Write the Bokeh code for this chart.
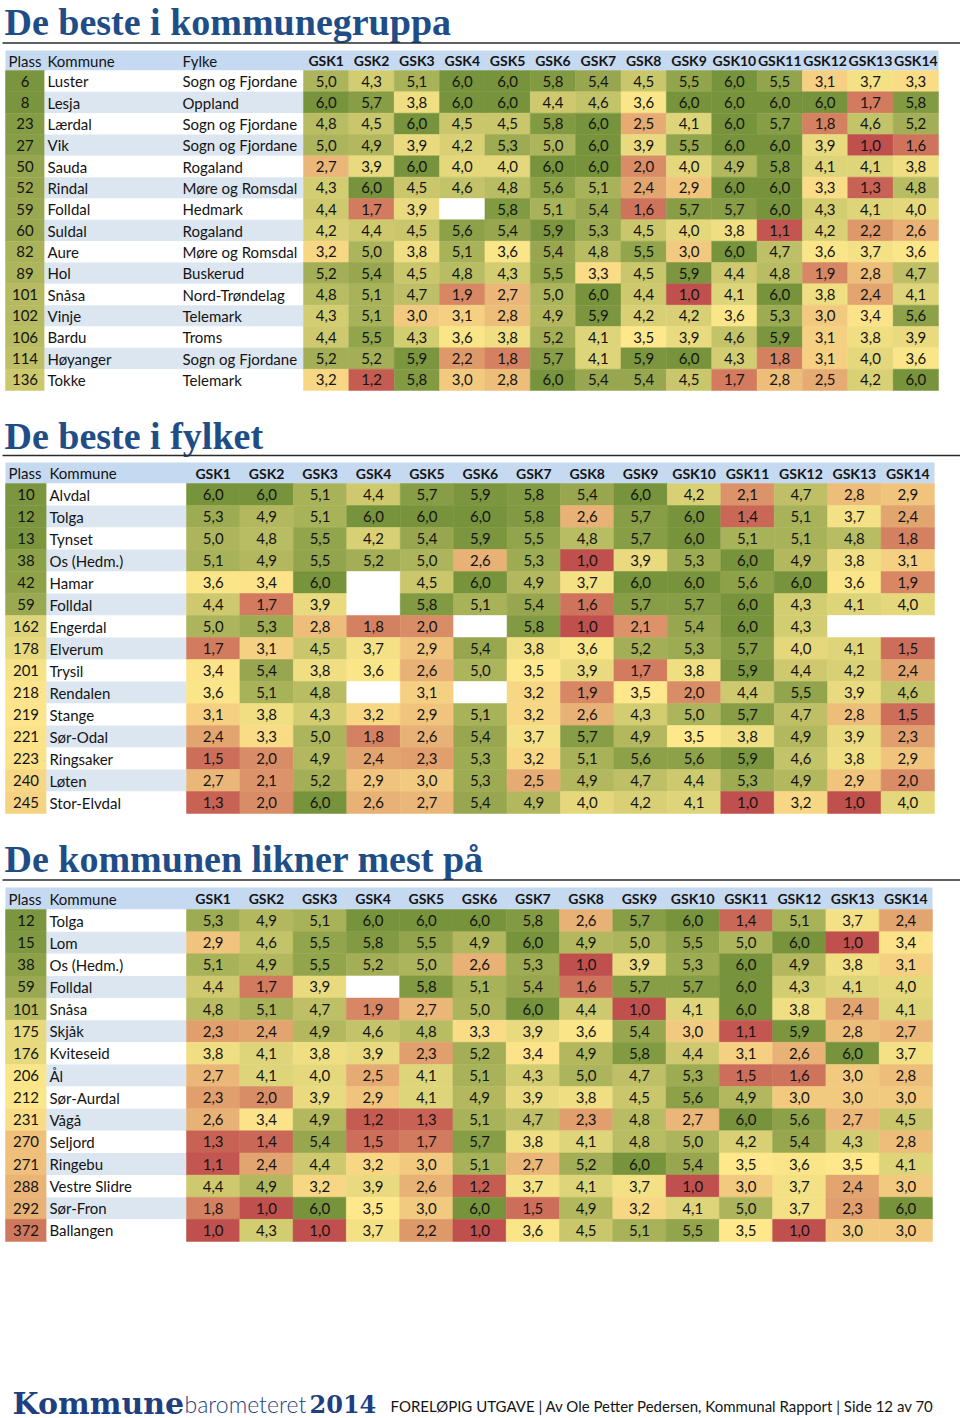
import numpy as np
from bokeh.plotting import figure
from bokeh.models import ColumnDataSource, Range1d
from bokeh.transform import linear_cmap
from bokeh.core.properties import value
from bokeh.embed import file_html
from bokeh.resources import INLINE

N = None
GSK_LABELS = [f"GSK{i}" for i in range(1, 15)]

# ---------------- Table 1 ----------------
t1_title = "De beste i kommunegruppa"
t1_plass = [6, 8, 23, 27, 50, 52, 59, 60, 82, 89, 101, 102, 106, 114, 136]
t1_kommune = ["Luster", "Lesja", "Lærdal", "Vik", "Sauda", "Rindal", "Folldal", "Suldal",
              "Aure", "Hol", "Snåsa", "Vinje", "Bardu", "Høyanger", "Tokke"]
t1_fylke = ["Sogn og Fjordane", "Oppland", "Sogn og Fjordane", "Sogn og Fjordane", "Rogaland",
            "Møre og Romsdal", "Hedmark", "Rogaland", "Møre og Romsdal", "Buskerud",
            "Nord-Trøndelag", "Telemark", "Troms", "Sogn og Fjordane", "Telemark"]
t1_values = [
    [5.0, 4.3, 5.1, 6.0, 6.0, 5.8, 5.4, 4.5, 5.5, 6.0, 5.5, 3.1, 3.7, 3.3],
    [6.0, 5.7, 3.8, 6.0, 6.0, 4.4, 4.6, 3.6, 6.0, 6.0, 6.0, 6.0, 1.7, 5.8],
    [4.8, 4.5, 6.0, 4.5, 4.5, 5.8, 6.0, 2.5, 4.1, 6.0, 5.7, 1.8, 4.6, 5.2],
    [5.0, 4.9, 3.9, 4.2, 5.3, 5.0, 6.0, 3.9, 5.5, 6.0, 6.0, 3.9, 1.0, 1.6],
    [2.7, 3.9, 6.0, 4.0, 4.0, 6.0, 6.0, 2.0, 4.0, 4.9, 5.8, 4.1, 4.1, 3.8],
    [4.3, 6.0, 4.5, 4.6, 4.8, 5.6, 5.1, 2.4, 2.9, 6.0, 6.0, 3.3, 1.3, 4.8],
    [4.4, 1.7, 3.9, N, 5.8, 5.1, 5.4, 1.6, 5.7, 5.7, 6.0, 4.3, 4.1, 4.0],
    [4.2, 4.4, 4.5, 5.6, 5.4, 5.9, 5.3, 4.5, 4.0, 3.8, 1.1, 4.2, 2.2, 2.6],
    [3.2, 5.0, 3.8, 5.1, 3.6, 5.4, 4.8, 5.5, 3.0, 6.0, 4.7, 3.6, 3.7, 3.6],
    [5.2, 5.4, 4.5, 4.8, 4.3, 5.5, 3.3, 4.5, 5.9, 4.4, 4.8, 1.9, 2.8, 4.7],
    [4.8, 5.1, 4.7, 1.9, 2.7, 5.0, 6.0, 4.4, 1.0, 4.1, 6.0, 3.8, 2.4, 4.1],
    [4.3, 5.1, 3.0, 3.1, 2.8, 4.9, 5.9, 4.2, 4.2, 3.6, 5.3, 3.0, 3.4, 5.6],
    [4.4, 5.5, 4.3, 3.6, 3.8, 5.2, 4.1, 3.5, 3.9, 4.6, 5.9, 3.1, 3.8, 3.9],
    [5.2, 5.2, 5.9, 2.2, 1.8, 5.7, 4.1, 5.9, 6.0, 4.3, 1.8, 3.1, 4.0, 3.6],
    [3.2, 1.2, 5.8, 3.0, 2.8, 6.0, 5.4, 5.4, 4.5, 1.7, 2.8, 2.5, 4.2, 6.0],
]

# ---------------- Table 2 ----------------
t2_title = "De beste i fylket"
t2_plass = [10, 12, 13, 38, 42, 59, 162, 178, 201, 218, 219, 221, 223, 240, 245]
t2_kommune = ["Alvdal", "Tolga", "Tynset", "Os (Hedm.)", "Hamar", "Folldal", "Engerdal",
              "Elverum", "Trysil", "Rendalen", "Stange", "Sør-Odal", "Ringsaker", "Løten",
              "Stor-Elvdal"]
t2_values = [
    [6.0, 6.0, 5.1, 4.4, 5.7, 5.9, 5.8, 5.4, 6.0, 4.2, 2.1, 4.7, 2.8, 2.9],
    [5.3, 4.9, 5.1, 6.0, 6.0, 6.0, 5.8, 2.6, 5.7, 6.0, 1.4, 5.1, 3.7, 2.4],
    [5.0, 4.8, 5.5, 4.2, 5.4, 5.9, 5.5, 4.8, 5.7, 6.0, 5.1, 5.1, 4.8, 1.8],
    [5.1, 4.9, 5.5, 5.2, 5.0, 2.6, 5.3, 1.0, 3.9, 5.3, 6.0, 4.9, 3.8, 3.1],
    [3.6, 3.4, 6.0, N, 4.5, 6.0, 4.9, 3.7, 6.0, 6.0, 5.6, 6.0, 3.6, 1.9],
    [4.4, 1.7, 3.9, N, 5.8, 5.1, 5.4, 1.6, 5.7, 5.7, 6.0, 4.3, 4.1, 4.0],
    [5.0, 5.3, 2.8, 1.8, 2.0, N, 5.8, 1.0, 2.1, 5.4, 6.0, 4.3, N, N],
    [1.7, 3.1, 4.5, 3.7, 2.9, 5.4, 3.8, 3.6, 5.2, 5.3, 5.7, 4.0, 4.1, 1.5],
    [3.4, 5.4, 3.8, 3.6, 2.6, 5.0, 3.5, 3.9, 1.7, 3.8, 5.9, 4.4, 4.2, 2.4],
    [3.6, 5.1, 4.8, N, 3.1, N, 3.2, 1.9, 3.5, 2.0, 4.4, 5.5, 3.9, 4.6],
    [3.1, 3.8, 4.3, 3.2, 2.9, 5.1, 3.2, 2.6, 4.3, 5.0, 5.7, 4.7, 2.8, 1.5],
    [2.4, 3.3, 5.0, 1.8, 2.6, 5.4, 3.7, 5.7, 4.9, 3.5, 3.8, 4.9, 3.9, 2.3],
    [1.5, 2.0, 4.9, 2.4, 2.3, 5.3, 3.2, 5.1, 5.6, 5.6, 5.9, 4.6, 3.8, 2.9],
    [2.7, 2.1, 5.2, 2.9, 3.0, 5.3, 2.5, 4.9, 4.7, 4.4, 5.3, 4.9, 2.9, 2.0],
    [1.3, 2.0, 6.0, 2.6, 2.7, 5.4, 4.9, 4.0, 4.2, 4.1, 1.0, 3.2, 1.0, 4.0],
]

# ---------------- Table 3 ----------------
t3_title = "De kommunen likner mest på"
t3_plass = [12, 15, 38, 59, 101, 175, 176, 206, 212, 231, 270, 271, 288, 292, 372]
t3_kommune = ["Tolga", "Lom", "Os (Hedm.)", "Folldal", "Snåsa", "Skjåk", "Kviteseid", "Ål",
              "Sør-Aurdal", "Vågå", "Seljord", "Ringebu", "Vestre Slidre", "Sør-Fron",
              "Ballangen"]
t3_values = [
    [5.3, 4.9, 5.1, 6.0, 6.0, 6.0, 5.8, 2.6, 5.7, 6.0, 1.4, 5.1, 3.7, 2.4],
    [2.9, 4.6, 5.5, 5.8, 5.5, 4.9, 6.0, 4.9, 5.0, 5.5, 5.0, 6.0, 1.0, 3.4],
    [5.1, 4.9, 5.5, 5.2, 5.0, 2.6, 5.3, 1.0, 3.9, 5.3, 6.0, 4.9, 3.8, 3.1],
    [4.4, 1.7, 3.9, N, 5.8, 5.1, 5.4, 1.6, 5.7, 5.7, 6.0, 4.3, 4.1, 4.0],
    [4.8, 5.1, 4.7, 1.9, 2.7, 5.0, 6.0, 4.4, 1.0, 4.1, 6.0, 3.8, 2.4, 4.1],
    [2.3, 2.4, 4.9, 4.6, 4.8, 3.3, 3.9, 3.6, 5.4, 3.0, 1.1, 5.9, 2.8, 2.7],
    [3.8, 4.1, 3.8, 3.9, 2.3, 5.2, 3.4, 4.9, 5.8, 4.4, 3.1, 2.6, 6.0, 3.7],
    [2.7, 4.1, 4.0, 2.5, 4.1, 5.1, 4.3, 5.0, 4.7, 5.3, 1.5, 1.6, 3.0, 2.8],
    [2.3, 2.0, 3.9, 2.9, 4.1, 4.9, 3.9, 3.8, 4.5, 5.6, 4.9, 3.0, 3.0, 3.0],
    [2.6, 3.4, 4.9, 1.2, 1.3, 5.1, 4.7, 2.3, 4.8, 2.7, 6.0, 5.6, 2.7, 4.5],
    [1.3, 1.4, 5.4, 1.5, 1.7, 5.7, 3.8, 4.1, 4.8, 5.0, 4.2, 5.4, 4.3, 2.8],
    [1.1, 2.4, 4.4, 3.2, 3.0, 5.1, 2.7, 5.2, 6.0, 5.4, 3.5, 3.6, 3.5, 4.1],
    [4.4, 4.9, 3.2, 3.9, 2.6, 1.2, 3.7, 4.1, 3.7, 1.0, 3.0, 3.7, 2.4, 3.0],
    [1.8, 1.0, 6.0, 3.5, 3.0, 6.0, 1.5, 4.9, 3.2, 4.1, 5.0, 3.7, 2.3, 6.0],
    [1.0, 4.3, 1.0, 3.7, 2.2, 1.0, 3.6, 4.5, 5.1, 5.5, 3.5, 1.0, 3.0, 3.0],
]

footer_brand = ["Kommune", "barometeret", "2014"]
footer_text = "FORELØPIG UTGAVE | Av Ole Petter Pedersen, Kommunal Rapport | Side 12 av 70"

# ---------------- styling ----------------
FONT = "Lato"
TITLE_FONT = "Liberation Serif"
BRAND_FONT = "DejaVu Serif"
TITLE_COLOR = "#1F4E87"
BRAND_COLOR = "#1F3F80"
TXT = "#141414"
HEAD_BG = "#C5D9F1"
STRIPE = "#DCE6F1"


def make_palette():
    red, yel, grn = (192, 80, 77), (255, 232, 140), (119, 147, 60)
    pal = []
    for i in range(101):
        t = i / 100
        if t <= 0.5:
            a, b, s = red, yel, t * 2
        else:
            a, b, s = yel, grn, (t - 0.5) * 2
        c = tuple(round(x + (y - x) * s) for x, y in zip(a, b))
        pal.append("#%02x%02x%02x" % c)
    return pal


PAL = make_palette()

p = figure(width=960, height=1418, x_range=Range1d(0, 960), y_range=Range1d(1418, 0),
           output_backend="svg", toolbar_location=None, min_border=0,
           x_axis_location=None, y_axis_location=None)
p.grid.visible = False
p.outline_line_color = None
p.background_fill_color = "white"


def fmt(v):
    return "" if v is None else f"{v:.1f}".replace(".", ",")


def draw_table(title, title_base, rule_y, head_top, head_bot, rows_bot, x0, plass_r, komm_r,
               gsk_l, gsk_r, plass, kommune, values, fylke=None):
    n = len(plass)
    rh = (rows_bot - head_bot) / n
    cw = (gsk_r - gsk_l) / 14
    tops = [head_bot + i * rh for i in range(n)]
    bots = [t + rh for t in tops]
    mids = [t + rh / 2 for t in tops]

    # title and rule
    p.text(x=[4], y=[title_base], text=[title], text_font=value(TITLE_FONT),
           text_font_style="bold", text_font_size="38px", text_color=TITLE_COLOR,
           text_baseline="alphabetic", text_align="left")
    p.segment(x0=[2], x1=[960], y0=[rule_y], y1=[rule_y], line_color="#2b2b2b", line_width=1.5)

    # header band
    p.quad(left=[x0], right=[gsk_r], top=[head_top], bottom=[head_bot],
           fill_color=HEAD_BG, line_color=None)
    hmid = (head_top + head_bot) / 2
    hx = [x0 + 3, plass_r + 3]
    ht = ["Plass", "Kommune"]
    if fylke is not None:
        hx.append(komm_r + 4)
        ht.append("Fylke")
    p.text(x=hx, y=[hmid] * len(hx), text=ht, text_font=value(FONT), text_font_size="15px",
           text_color=TXT, text_baseline="middle", text_align="left")
    p.text(x=[gsk_l + cw * (j + 0.5) for j in range(14)], y=[hmid] * 14, text=GSK_LABELS,
           text_font=value(FONT), text_font_style="bold", text_font_size="14px",
           text_color=TXT, text_baseline="middle", text_align="center")

    # plass column (colored by rank)
    src_p = ColumnDataSource(dict(left=[x0] * n, right=[plass_r] * n, top=tops, bottom=bots,
                                  plass=plass, x=[(x0 + plass_r) / 2] * n, y=mids,
                                  label=[str(v) for v in plass]))
    cm_p = linear_cmap("plass", PAL[::-1], 1, 428)
    p.quad(left="left", right="right", top="top", bottom="bottom", source=src_p,
           fill_color=cm_p, line_color=cm_p, line_width=0.5)
    p.text(x="x", y="y", text="label", source=src_p, text_font=value(FONT),
           text_font_size="15px", text_color=TXT, text_baseline="middle", text_align="center")

    # name columns with stripes
    name_r = gsk_l
    stripes = [STRIPE if i % 2 == 1 else "white" for i in range(n)]
    p.quad(left=[plass_r] * n, right=[name_r] * n, top=tops, bottom=bots,
           fill_color=stripes, line_color=None)
    p.text(x=[plass_r + 3] * n, y=mids, text=kommune, text_font=value(FONT),
           text_font_size="15px", text_color=TXT, text_baseline="middle", text_align="left")
    if fylke is not None:
        p.text(x=[komm_r + 4] * n, y=mids, text=fylke, text_font=value(FONT),
               text_font_size="15px", text_color=TXT, text_baseline="middle",
               text_align="left")

    # value cells
    L, R, T, B, V, X, Y, S = [], [], [], [], [], [], [], []
    for i, row in enumerate(values):
        for j, v in enumerate(row):
            L.append(gsk_l + j * cw)
            R.append(gsk_l + (j + 1) * cw)
            T.append(tops[i])
            B.append(bots[i])
            V.append(np.nan if v is None else v)
            X.append(gsk_l + (j + 0.5) * cw)
            Y.append(mids[i])
            S.append(fmt(v))
    src_v = ColumnDataSource(dict(left=L, right=R, top=T, bottom=B, v=np.array(V, dtype=float),
                                  x=X, y=Y, label=S))
    cm_v = linear_cmap("v", PAL, 1, 6, nan_color="white")
    p.quad(left="left", right="right", top="top", bottom="bottom", source=src_v,
           fill_color=cm_v, line_color=cm_v, line_width=0.5)
    p.text(x="x", y="y", text="label", source=src_v, text_font=value(FONT),
           text_font_size="15px", text_color=TXT, text_baseline="middle", text_align="center")


draw_table(t1_title, 21, 42.5, 50, 70, 390, 5, 44, 178, 303, 938,
           t1_plass, t1_kommune, t1_values, fylke=t1_fylke)
draw_table(t2_title, 435, 455, 462, 483, 813, 5, 46, 186, 186, 934,
           t2_plass, t2_kommune, t2_values)
draw_table(t3_title, 858, 879.5, 887, 909, 1241, 5, 46, 186, 186, 932,
           t3_plass, t3_kommune, t3_values)

# footer
p.text(x=[12], y=[1403], text=[footer_brand[0]], text_font=value(BRAND_FONT),
       text_font_style="bold", text_font_size="30px", text_color=BRAND_COLOR,
       text_baseline="alphabetic", text_align="left")
p.text(x=[184], y=[1403], text=[footer_brand[1]], text_font=value("Lato Light"),
       text_font_size="23px", text_color=BRAND_COLOR, text_baseline="alphabetic",
       text_align="left")
p.text(x=[309], y=[1403], text=[footer_brand[2]], text_font=value(BRAND_FONT),
       text_font_style="bold", text_font_size="24px", text_color=BRAND_COLOR,
       text_baseline="alphabetic", text_align="left")
p.text(x=[390], y=[1405], text=[footer_text], text_font=value(FONT),
       text_font_size="15px", text_color=TXT, text_baseline="alphabetic", text_align="left")

open("out.html", "w").write(file_html(p, INLINE))
